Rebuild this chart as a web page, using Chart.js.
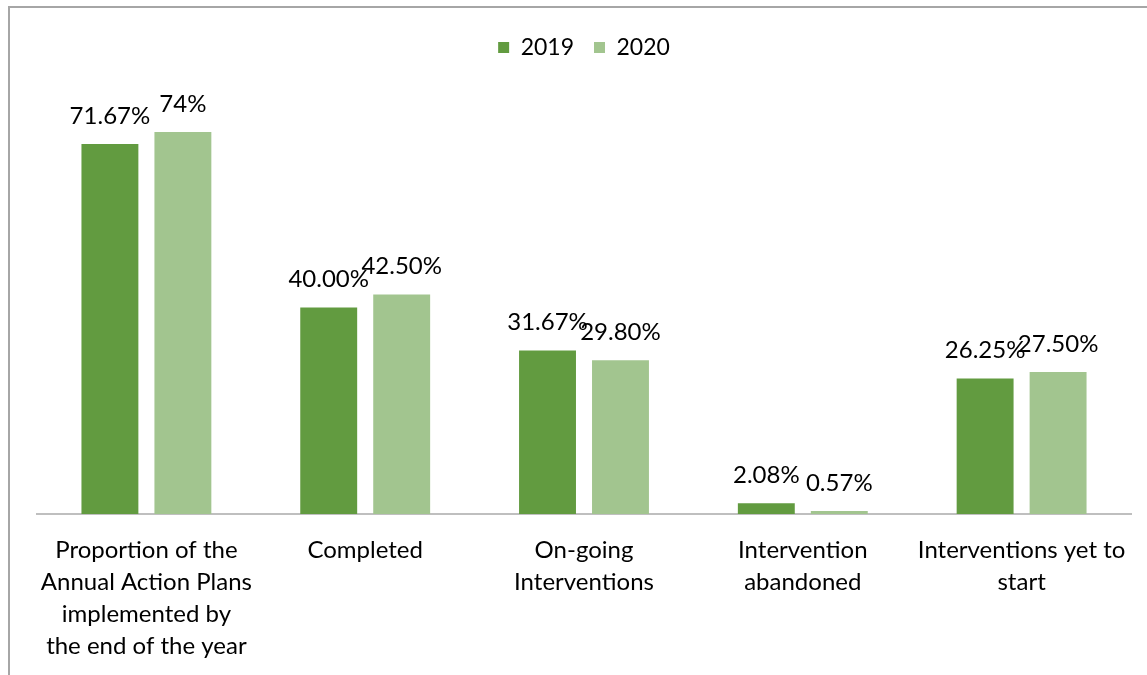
<!DOCTYPE html>
<html>
<head>
<meta charset="utf-8">
<script src="https://cdn.jsdelivr.net/npm/chart.js@4/dist/chart.umd.min.js"></script>
<style>
  html, body { margin: 0; padding: 0; background: #fff; }
  #wrap { position: relative; width: 1147px; height: 675px; overflow: hidden; }
  #frame { position: absolute; left: 8px; top: 6px; width: 1200px; height: 700px;
           border-top: 2px solid #a6a6a6; border-left: 2px solid #a6a6a6; pointer-events: none; }
  canvas { position: absolute; left: 0; top: 0; }
</style>
</head>
<body>
<div id="wrap">
  <canvas id="chart" width="1147" height="682"></canvas>
  <div id="frame"></div>
</div>
<script>
const categories = [
  ['Proportion of the', 'Annual Action Plans', 'implemented by', 'the end of the year'],
  ['Completed'],
  ['On-going', 'Interventions'],
  ['Intervention', 'abandoned'],
  ['Interventions yet to', 'start'],
];
const values2019 = [71.67, 40.00, 31.67, 2.08, 26.25];
const values2020 = [74, 42.50, 29.80, 0.57, 27.50];
const labels2019 = ['71.67%', '40.00%', '31.67%', '2.08%', '26.25%'];
const labels2020 = ['74%', '42.50%', '29.80%', '0.57%', '27.50%'];

const FONT = 'Lato, "Open Sans", sans-serif';

// data labels above each bar
const valueLabels = {
  id: 'valueLabels',
  afterDatasetsDraw(chart) {
    const ctx = chart.ctx;
    ctx.save();
    ctx.font = '24px ' + FONT;
    ctx.fillStyle = '#000';
    ctx.textAlign = 'center';
    ctx.textBaseline = 'middle';
    chart.data.datasets.forEach((ds, i) => {
      const meta = chart.getDatasetMeta(i);
      meta.data.forEach((bar, j) => {
        ctx.fillText(ds.valueText[j], bar.x, bar.y - 28);
      });
    });
    ctx.restore();
  },
};

// extra room under the legend
const legendGap = {
  id: 'legendGap',
  beforeInit(chart) {
    const fit = chart.legend.fit;
    chart.legend.fit = function () {
      fit.call(this);
      this.height += 32;
    };
  },
};

new Chart(document.getElementById('chart'), {
  type: 'bar',
  data: {
    labels: categories,
    datasets: [
      { label: '2019', data: values2019, valueText: labels2019, backgroundColor: '#629b40' },
      { label: '2020', data: values2020, valueText: labels2020, backgroundColor: '#a2c58f' },
    ],
  },
  options: {
    responsive: false,
    animation: false,
    categoryPercentage: 0.667,
    barPercentage: 0.78,
    layout: { padding: { left: 37, right: 16, top: 16, bottom: 0 } },
    plugins: {
      legend: {
        position: 'top',
        labels: {
          boxWidth: 11,
          boxHeight: 11,
          padding: 20,
          color: '#000',
          font: { family: FONT, size: 23 },
        },
      },
      tooltip: { enabled: false },
    },
    scales: {
      x: {
        grid: { display: false, drawTicks: false },
        border: { color: '#bfbfbf', width: 2 },
        ticks: {
          color: '#000',
          font: { family: FONT, size: 24, lineHeight: 1.333 },
          padding: 20,
          maxRotation: 0,
          autoSkip: false,
        },
      },
      y: {
        display: false,
        min: 0,
        max: 80,
      },
    },
  },
  plugins: [valueLabels, legendGap],
});
</script>
</body>
</html>
